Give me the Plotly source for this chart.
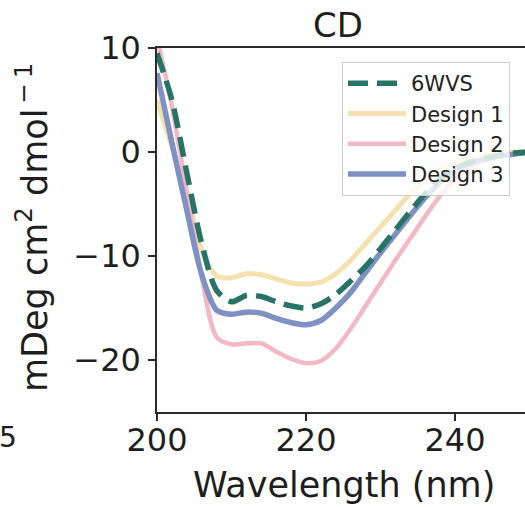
import plotly.graph_objects as go

# Wavelength grid (nm)
wavelength = [200, 202, 204, 206, 208, 210, 212, 214, 216, 218, 220, 222, 224,
              226, 228, 230, 232, 234, 236, 238, 240, 242, 244, 246, 248, 250]

wvs6 = [9.5, 5.0, -2.0, -8.8, -13.3, -14.4, -13.8, -13.9, -14.4, -14.8, -15.0, -14.6, -13.7,
        -12.4, -11.0, -9.3, -7.5, -5.7, -4.0, -2.6, -1.6, -1.0, -0.6, -0.3, -0.1, 0.0]
design1 = [5.0, 0.5, -4.0, -9.4, -11.9, -12.1, -11.7, -11.8, -12.2, -12.6, -12.7, -12.5, -11.7,
           -10.4, -8.8, -7.2, -5.6, -4.0, -2.7, -1.7, -1.0, -0.6, -0.3, -0.1, 0.0, 0.1]
design2 = [11.0, 4.4, -3.8, -12.0, -17.8, -18.5, -18.4, -18.4, -19.2, -19.9, -20.3, -20.1, -18.9,
           -17.0, -14.8, -12.6, -10.4, -8.3, -6.2, -4.2, -2.6, -1.5, -0.8, -0.4, -0.2, 0.0]
design3 = [7.6, 0.9, -5.6, -11.8, -15.2, -15.6, -15.4, -15.5, -16.0, -16.4, -16.6, -16.2, -15.0,
           -13.5, -11.6, -9.7, -7.9, -6.1, -4.4, -2.9, -1.8, -1.1, -0.7, -0.4, -0.2, 0.0]

x_ticks = [200, 220, 240]
y_ticks = [-20, -10, 0, 10]

FONT = "DejaVu Sans"
W, H = 525, 507
L, R, T, B = 157, 0, 48, 95

fig = go.Figure()
fig.add_trace(go.Scatter(x=wavelength, y=design1, mode="lines", name="Design 1",
                         line=dict(color="#f5e1b0", width=5, shape="spline", smoothing=0.8),
                         legendrank=2))
fig.add_trace(go.Scatter(x=wavelength, y=design2, mode="lines", name="Design 2",
                         line=dict(color="#f3b8c3", width=4.5, shape="spline", smoothing=0.8),
                         legendrank=3))
fig.add_trace(go.Scatter(x=wavelength, y=design3, mode="lines", name="Design 3",
                         line=dict(color="#7f90c3", width=5.5, shape="spline", smoothing=0.8),
                         legendrank=4))
fig.add_trace(go.Scatter(x=wavelength, y=wvs6, mode="lines", name="6WVS",
                         line=dict(color="#277466", width=5.5, dash="20px,9px",
                                   shape="spline", smoothing=0.8),
                         legendrank=1))

axis_common = dict(
    showgrid=False, zeroline=False, showline=True, linecolor="#2a2a2a", linewidth=1.5,
    ticks="outside", ticklen=7, tickwidth=1.5, tickcolor="#2a2a2a", automargin=False,
    tickfont=dict(family=FONT, size=32, color="#1e1e1e"),
)
fig.update_xaxes(range=[200, 249.4], tickvals=x_ticks, mirror=True,
                 ticklabelstandoff=-8, **axis_common)
fig.update_yaxes(range=[-25, 10], tickvals=y_ticks, mirror=False,
                 ticklabelstandoff=1, **axis_common)

pw = W - L - R
ph = H - T - B

def px_x(p):
    return (p - L) / pw

def px_y(p):
    return 1 - (p - T) / ph

fig.update_layout(
    width=W, height=H,
    margin=dict(l=L, r=R, t=T, b=B, pad=0, autoexpand=False),
    plot_bgcolor="white", paper_bgcolor="white",
    font=dict(family=FONT, color="#1e1e1e"),
    showlegend=True,
    legend=dict(x=px_x(342), y=px_y(62), xanchor="left", yanchor="top",
                bgcolor="rgba(255,255,255,0.8)", bordercolor="#cccccc", borderwidth=1,
                font=dict(family=FONT, size=21, color="#222222"),
                itemwidth=58, tracegroupgap=0),
    annotations=[
        dict(text="CD", xref="paper", yref="paper", x=px_x(338), y=px_y(25),
             xanchor="center", yanchor="middle", showarrow=False,
             font=dict(family=FONT, size=34, color="#1e1e1e")),
        dict(text="Wavelength (nm)", xref="paper", yref="paper", x=px_x(344), y=px_y(485),
             xanchor="center", yanchor="middle", showarrow=False,
             font=dict(family=FONT, size=35, color="#1e1e1e")),
        dict(text="mDeg cm<sup>2</sup> dmol<sup>\u2009\u2212\u20091</sup>", xref="paper", yref="paper",
             x=px_x(32), y=px_y(228), xanchor="center", yanchor="middle", textangle=-90,
             showarrow=False, font=dict(family=FONT, size=35, color="#1e1e1e")),
        dict(text="5", xref="paper", yref="paper", x=px_x(19), y=px_y(437),
             xanchor="right", yanchor="middle", showarrow=False,
             font=dict(family=FONT, size=28, color="#1e1e1e")),
    ],
)

fig.write_html(
    "out.html",
    config={"displayModeBar": False},
    post_script="document.body.style.margin='0';document.documentElement.style.overflow='hidden';document.body.style.overflow='hidden';",
)
